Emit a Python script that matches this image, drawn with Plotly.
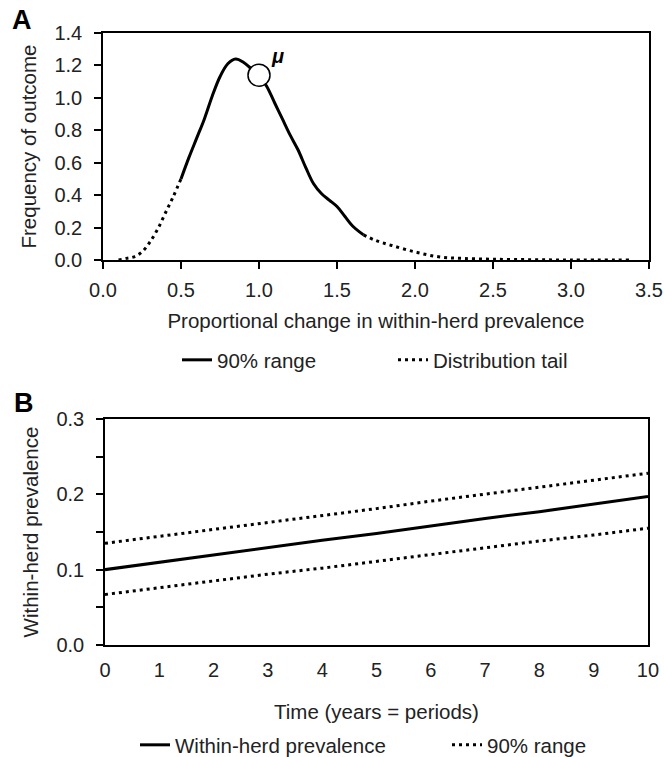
"""
    Within-herd prevalence: distribution of outcome (A) and projection over time (B)
"""

import plotly.graph_objects as go

# Panel A: distribution of the proportional change
tail_low_x = [0.10, 0.15, 0.20, 0.25, 0.30, 0.35, 0.40, 0.45, 0.50]
tail_low_y = [0.00, 0.01, 0.02, 0.05, 0.11, 0.19, 0.29, 0.39, 0.50]

range_x = [0.50, 0.55, 0.60, 0.65, 0.70, 0.75, 0.80, 0.85, 0.90, 0.95, 1.00,
           1.05, 1.10, 1.15, 1.20, 1.25, 1.30, 1.35, 1.40, 1.45, 1.50, 1.55,
           1.60, 1.67]
range_y = [0.50, 0.63, 0.75, 0.87, 1.01, 1.13, 1.21, 1.24, 1.22, 1.18, 1.14,
           1.07, 0.97, 0.87, 0.77, 0.68, 0.57, 0.47, 0.41, 0.37, 0.33, 0.27,
           0.21, 0.155]

tail_high_x = [1.67, 1.75, 1.85, 2.00, 2.15, 2.30, 2.50, 2.75, 3.00, 3.38]
tail_high_y = [0.155, 0.12, 0.09, 0.05, 0.02, 0.01, 0.005, 0.002, 0.0, 0.0]

mu_x = [1.0]
mu_y = [1.14]

# Panel B: prevalence over time
years = [0, 1, 2, 3, 4, 5, 6, 7, 8, 9, 10]
prev_mid = [0.100, 0.110, 0.119, 0.129, 0.139, 0.148, 0.158, 0.168, 0.177, 0.187, 0.197]
prev_high = [0.135, 0.144, 0.154, 0.163, 0.172, 0.181, 0.191, 0.200, 0.209, 0.219, 0.228]
prev_low = [0.067, 0.076, 0.085, 0.094, 0.102, 0.111, 0.120, 0.129, 0.138, 0.146, 0.155]

FONT = "Liberation Sans, Arial, sans-serif"
FS = 20.5
DOT = "3px,4px"
LW = 3

fig = go.Figure()

# ---- Panel A
fig.add_trace(go.Scatter(x=range_x, y=range_y, mode="lines", name="90% range",
                         line={"color": "black", "width": LW, "shape": "spline"},
                         legend="legend", xaxis="x", yaxis="y"))
fig.add_trace(go.Scatter(x=tail_low_x, y=tail_low_y, mode="lines", name="Distribution tail",
                         line={"color": "black", "width": LW, "dash": DOT, "shape": "spline"},
                         legend="legend", xaxis="x", yaxis="y"))
fig.add_trace(go.Scatter(x=tail_high_x, y=tail_high_y, mode="lines", showlegend=False,
                         line={"color": "black", "width": LW, "dash": DOT, "shape": "spline"},
                         xaxis="x", yaxis="y"))
fig.add_trace(go.Scatter(x=mu_x, y=mu_y, mode="markers", showlegend=False,
                         marker={"size": 22, "color": "white",
                                 "line": {"color": "black", "width": 1.5}},
                         xaxis="x", yaxis="y"))

# ---- Panel B
fig.add_trace(go.Scatter(x=years, y=prev_mid, mode="lines", name="Within-herd prevalence",
                         line={"color": "black", "width": LW},
                         legend="legend2", xaxis="x2", yaxis="y2"))
fig.add_trace(go.Scatter(x=years, y=prev_high, mode="lines", name="90% range",
                         line={"color": "black", "width": LW, "dash": DOT},
                         legend="legend2", xaxis="x2", yaxis="y2"))
fig.add_trace(go.Scatter(x=years, y=prev_low, mode="lines", showlegend=False,
                         line={"color": "black", "width": LW, "dash": DOT},
                         xaxis="x2", yaxis="y2"))

axis_common = {"showline": True, "linecolor": "black", "linewidth": 1.5, "mirror": True,
               "ticks": "outside", "ticklen": 7, "tickcolor": "black", "tickwidth": 1.5,
               "showgrid": False, "zeroline": False, "automargin": False,
               "tickfont": {"size": 20, "color": "#222"},
               "title_font": {"size": FS, "color": "#222"}}

fig.update_layout(
    width=664, height=757,
    margin={"t": 0, "l": 0, "r": 0, "b": 0, "autoexpand": False},
    plot_bgcolor="white", paper_bgcolor="white",
    font={"family": FONT, "color": "#222"},
    xaxis={**axis_common, "domain": [0.1551, 0.9774], "range": [0, 3.5],
           "tick0": 0, "dtick": 0.5, "tickformat": ".1f", "anchor": "y",
           "ticklabelstandoff": 4,
           "title": {"text": "Proportional change in within-herd prevalence", "standoff": 14}},
    yaxis={**axis_common, "domain": [0.6565, 0.9564], "range": [0, 1.4],
           "tick0": 0, "dtick": 0.2, "tickformat": ".1f", "anchor": "x",
           "ticklabelstandoff": 8,
           "title": {"text": "Frequency of outcome", "standoff": 12}},
    xaxis2={**axis_common, "domain": [0.1581, 0.9759], "range": [0, 10],
            "tick0": 0, "dtick": 1, "anchor": "y2", "ticks": "",
            "ticklabelstandoff": 6,
            "title": {"text": "Time (years = periods)", "standoff": 25}},
    yaxis2={**axis_common, "domain": [0.1480, 0.4465], "range": [0, 0.3],
            "tick0": 0, "dtick": 0.1, "tickformat": ".1f", "anchor": "x2",
            "ticklabelstandoff": 8,
            "minor": {"dtick": 0.05, "ticks": "outside", "ticklen": 7,
                      "tickcolor": "black", "tickwidth": 1.5},
            "title": {"text": "Within-herd prevalence", "standoff": 12}},
    legend={"orientation": "h", "x": 177 / 664, "y": 1 - 360 / 757, "xanchor": "left",
            "yanchor": "middle", "font": {"size": FS, "color": "#222"},
            "bgcolor": "rgba(0,0,0,0)", "entrywidth": 171, "entrywidthmode": "pixels"},
    legend2={"orientation": "h", "x": 135 / 664, "y": 1 - 745 / 757, "xanchor": "left",
             "yanchor": "middle", "font": {"size": FS, "color": "#222"},
             "bgcolor": "rgba(0,0,0,0)", "entrywidth": 267, "entrywidthmode": "pixels"},
    annotations=[
        {"text": "<b>A</b>", "x": 10 / 664, "y": 1 - 20 / 757, "xref": "paper", "yref": "paper",
         "xanchor": "left", "yanchor": "middle", "showarrow": False,
         "font": {"size": 27, "color": "black"}},
        {"text": "<b>B</b>", "x": 12 / 664, "y": 1 - 403 / 757, "xref": "paper", "yref": "paper",
         "xanchor": "left", "yanchor": "middle", "showarrow": False,
         "font": {"size": 27, "color": "black"}},
        {"text": "<b><i>μ</i></b>", "x": 1.12, "y": 1.26, "xref": "x", "yref": "y",
         "showarrow": False, "font": {"size": 20, "color": "black"}},
    ],
)

# drop the page's default body margin so the figure sits at the window origin
fig.write_html("out.html", config={"displayModeBar": False},
               post_script="document.body.style.margin = '0';")
